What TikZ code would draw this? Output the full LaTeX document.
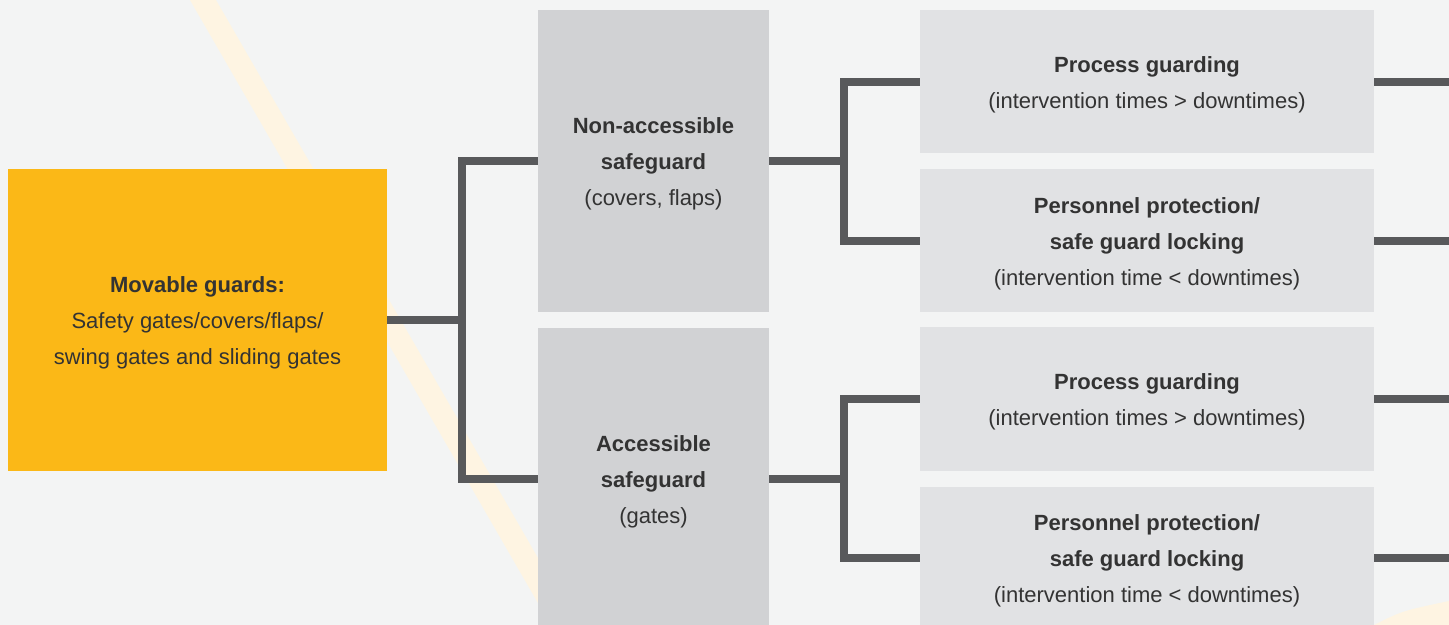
\documentclass[tikz,border=0pt]{standalone}
\usepackage{fontspec}
\setmainfont{Liberation Sans}

\definecolor{guardyellow}{HTML}{FBB817}
\definecolor{midgray}{HTML}{D1D2D4}
\definecolor{sidegray}{HTML}{E1E2E4}
\definecolor{linkgray}{HTML}{58595B}
\definecolor{textgray}{HTML}{333333}
\definecolor{paper}{HTML}{F3F4F4}
\definecolor{glow}{HTML}{FEF4E2}

% strut that pushes the first line down a little
\newcommand{\lift}{\rule{0pt}{11pt}}

\tikzset{
	guardbox/.style={rectangle, inner sep=0pt, align=center, text=textgray,
		font=\fontsize{11}{18}\selectfont},
	mainbox/.style={guardbox, fill=guardyellow, minimum width=189.5pt, minimum height=151pt},
	midbox/.style={guardbox, fill=midgray, minimum width=115.5pt, minimum height=151pt},
	sidebox/.style={guardbox, fill=sidegray, minimum width=227pt, minimum height=71.5pt},
	link/.style={draw=linkgray, line width=4pt, line join=miter},
}

\begin{document}
\begin{tikzpicture}[x=0.5pt, y=-0.5pt]
				\useasboundingbox (0,0) rectangle (1449,625);
				\clip (0,0) rectangle (1449,625);
				% background
				\fill[paper] (0,0) rectangle (1449,625);
				\fill[glow] (190,0) -- (216,0) -- (568,610) -- (542,610) -- cycle;
				\fill[glow] (1374,625) .. controls (1402,611) .. (1449,601) -- (1449,625) -- cycle;
				% boxes
				\node[mainbox] (MG)at(197.5, 320) {\lift\textbf{Movable guards:}\\Safety gates/covers/flaps/\\swing gates and sliding gates};
				\node[midbox] (NA)at(653.5, 161) {\lift\textbf{Non-accessible}\\\textbf{safeguard}\\(covers, flaps)};
				\node[midbox] (AS)at(653.5, 479) {\lift\textbf{Accessible}\\\textbf{safeguard}\\(gates)};
				\node[sidebox] (PGA)at(1147, 82) {\lift\textbf{Process guarding}\\(intervention times > downtimes)};
				\node[sidebox] (PPA)at(1147, 241) {\lift\textbf{Personnel protection/}\\\textbf{safe guard locking}\\(intervention time < downtimes)};
				\node[sidebox] (PGB)at(1147, 399) {\lift\textbf{Process guarding}\\(intervention times > downtimes)};
				\node[sidebox] (PPB)at(1147, 558) {\lift\textbf{Personnel protection/}\\\textbf{safe guard locking}\\(intervention time < downtimes)};
				% junctions and free ends
				\coordinate (J0) at (462, 320);
				\coordinate (JA) at (844, 161);
				\coordinate (JB) at (844, 479);
				\foreach \n/\y in {PGA/82, PPA/241, PGB/399, PPB/558}
					\coordinate (E\n) at (1449, \y);
				% connectors
				\draw[link] (MG) -- (J0);
				\draw[link] (J0) |- (NA);
				\draw[link] (J0) |- (AS);
				\draw[link] (NA) -- (JA);
				\draw[link] (JA) |- (PGA);
				\draw[link] (JA) |- (PPA);
				\draw[link] (AS) -- (JB);
				\draw[link] (JB) |- (PGB);
				\draw[link] (JB) |- (PPB);
				\foreach \n in {PGA, PPA, PGB, PPB}
					\draw[link] (\n) -- (E\n);
			\end{tikzpicture}
\end{document}
